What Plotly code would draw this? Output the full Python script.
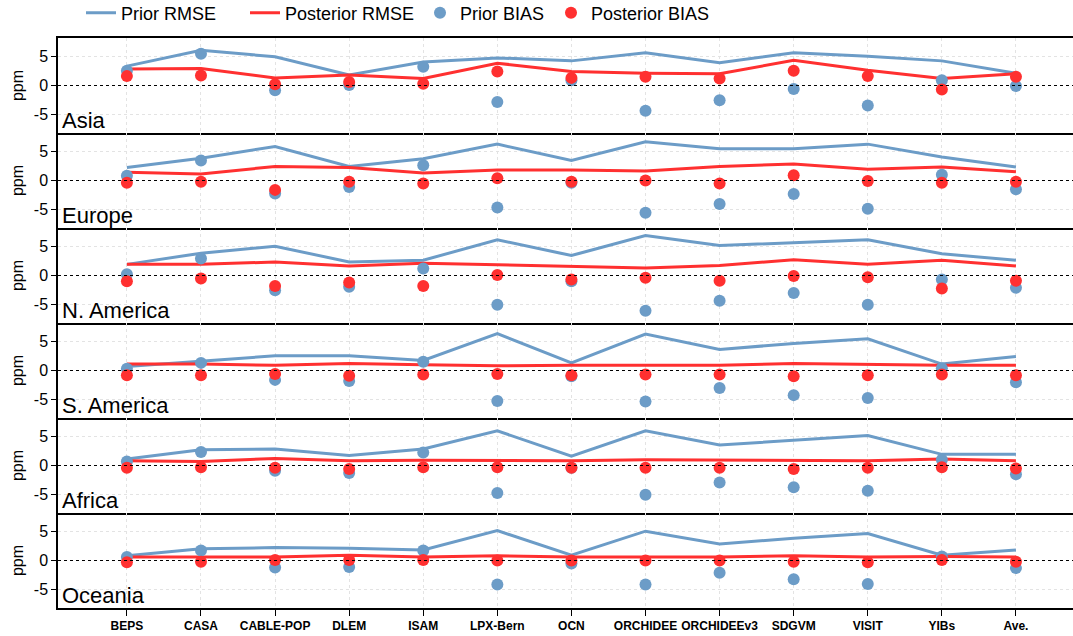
import plotly.graph_objects as go
from plotly.subplots import make_subplots

# Models on the x axis
models = ["BEPS", "CASA", "CABLE-POP", "DLEM", "ISAM", "LPX-Bern", "OCN",
          "ORCHIDEE", "ORCHIDEEv3", "SDGVM", "VISIT", "YIBs", "Ave."]

regions = ["Asia", "Europe", "N. America", "S. America", "Africa", "Oceania"]

# RMSE and BIAS (ppm) for each region, prior and posterior
asia_prior_rmse = [3.3, 6.0, 4.9, 1.8, 4.0, 4.7, 4.2, 5.6, 3.9, 5.6, 5.0, 4.2, 2.1]
asia_post_rmse = [2.8, 2.9, 1.3, 1.8, 1.2, 3.8, 2.4, 2.1, 2.0, 4.3, 2.6, 1.2, 2.0]
asia_prior_bias = [2.5, 5.4, -0.8, 0.1, 3.2, -2.8, 0.9, -4.3, -2.5, -0.6, -3.4, 0.9, -0.1]
asia_post_bias = [1.6, 1.7, 0.2, 0.6, 0.3, 2.4, 1.3, 1.5, 1.2, 2.5, 1.6, -0.7, 1.5]

europe_prior_rmse = [2.2, 3.8, 5.8, 2.4, 3.7, 6.2, 3.4, 6.6, 5.4, 5.4, 6.2, 4.0, 2.3]
europe_post_rmse = [1.4, 1.1, 2.4, 2.2, 1.3, 1.8, 1.8, 1.6, 2.4, 2.8, 1.9, 2.3, 1.5]
europe_prior_bias = [0.8, 3.4, -2.2, -1.1, 2.6, -4.6, -0.4, -5.5, -4.0, -2.3, -4.8, 1.0, -1.5]
europe_post_bias = [-0.4, -0.2, -1.6, -0.2, -0.5, 0.4, -0.2, 0.0, -0.5, 0.9, -0.1, -0.4, -0.2]

namerica_prior_rmse = [1.9, 3.8, 5.0, 2.3, 2.6, 6.1, 3.4, 6.8, 5.1, 5.6, 6.1, 3.7, 2.6]
namerica_post_rmse = [1.9, 1.9, 2.3, 1.6, 2.1, 1.8, 1.6, 1.3, 1.7, 2.7, 1.9, 2.6, 1.6]
namerica_prior_bias = [0.2, 2.9, -2.5, -1.9, 1.2, -5.0, -1.0, -6.0, -4.3, -3.0, -5.0, -0.7, -2.1]
namerica_post_bias = [-1.0, -0.5, -1.8, -1.2, -1.8, 0.1, -0.7, -0.4, -0.9, -0.1, -0.3, -2.2, -0.9]

samerica_prior_rmse = [0.7, 1.6, 2.5, 2.5, 1.7, 6.3, 1.3, 6.2, 3.6, 4.6, 5.4, 1.1, 2.4]
samerica_post_rmse = [1.1, 1.1, 0.9, 1.2, 1.0, 0.8, 0.9, 0.9, 0.9, 1.2, 1.0, 0.9, 0.9]
samerica_prior_bias = [0.3, 1.3, -1.6, -1.8, 1.5, -5.2, -1.0, -5.3, -3.0, -4.2, -4.7, 0.4, -2.0]
samerica_post_bias = [-0.8, -0.8, -0.6, -0.9, -0.7, -0.6, -0.8, -0.7, -0.7, -1.0, -0.8, -0.7, -0.8]

africa_prior_rmse = [1.1, 2.7, 2.8, 1.7, 2.8, 5.9, 1.6, 5.9, 3.5, 4.3, 5.1, 1.9, 1.9]
africa_post_rmse = [0.8, 0.7, 1.2, 0.8, 0.9, 0.8, 0.8, 1.0, 0.9, 0.8, 0.8, 1.1, 0.8]
africa_prior_bias = [0.7, 2.3, -0.9, -1.3, 2.2, -4.7, -0.4, -5.0, -2.9, -3.7, -4.3, 1.0, -1.5]
africa_post_bias = [-0.4, -0.3, -0.4, -0.6, -0.3, -0.3, -0.4, -0.4, -0.4, -0.6, -0.4, -0.3, -0.5]

oceania_prior_rmse = [0.8, 2.0, 2.2, 2.1, 1.8, 5.1, 0.9, 5.0, 2.8, 3.8, 4.6, 0.9, 1.8]
oceania_post_rmse = [0.6, 0.6, 0.6, 0.9, 0.6, 0.8, 0.6, 0.6, 0.6, 0.8, 0.6, 0.7, 0.6]
oceania_prior_bias = [0.6, 1.7, -1.2, -1.1, 1.7, -4.1, -0.5, -4.1, -2.1, -3.2, -4.0, 0.7, -1.3]
oceania_post_bias = [-0.3, -0.2, 0.1, 0.1, 0.1, 0.0, 0.0, 0.0, 0.0, -0.2, -0.3, 0.1, -0.2]

prior_rmse = [asia_prior_rmse, europe_prior_rmse, namerica_prior_rmse,
              samerica_prior_rmse, africa_prior_rmse, oceania_prior_rmse]
post_rmse = [asia_post_rmse, europe_post_rmse, namerica_post_rmse,
             samerica_post_rmse, africa_post_rmse, oceania_post_rmse]
prior_bias = [asia_prior_bias, europe_prior_bias, namerica_prior_bias,
              samerica_prior_bias, africa_prior_bias, oceania_prior_bias]
post_bias = [asia_post_bias, europe_post_bias, namerica_post_bias,
             samerica_post_bias, africa_post_bias, oceania_post_bias]

BLUE = "rgb(108,156,199)"
RED = "rgb(255,48,48)"
FONT = "Liberation Sans, Arial, sans-serif"
GRID = "#e3e3e3"

fig = make_subplots(rows=6, cols=1, shared_xaxes=True, vertical_spacing=0)

xs = list(range(len(models)))
for i, region in enumerate(regions):
    row = i + 1
    first = i == 0
    fig.add_trace(go.Scatter(x=xs, y=prior_rmse[i], mode="lines", name="Prior RMSE",
                             line=dict(color=BLUE, width=3), showlegend=first,
                             legend="legend"), row=row, col=1)
    fig.add_trace(go.Scatter(x=xs, y=post_rmse[i], mode="lines", name="Posterior RMSE",
                             line=dict(color=RED, width=3), showlegend=first,
                             legend="legend2"), row=row, col=1)
    fig.add_trace(go.Scatter(x=xs, y=prior_bias[i], mode="markers", name="Prior BIAS",
                             marker=dict(color=BLUE, size=12), showlegend=first,
                             legend="legend3"), row=row, col=1)
    fig.add_trace(go.Scatter(x=xs, y=post_bias[i], mode="markers", name="Posterior BIAS",
                             marker=dict(color=RED, size=12), showlegend=first,
                             legend="legend4"), row=row, col=1)
    # dotted zero reference
    fig.add_hline(y=0, line=dict(color="black", width=1, dash="dot"), row=row, col=1)
    # region label in the lower-left corner
    yref = "y domain" if row == 1 else f"y{row} domain"
    xref = "x domain" if row == 1 else f"x{row} domain"
    fig.add_annotation(text=region, xref=xref, yref=yref, x=0.0, y=0.0,
                       xanchor="left", yanchor="bottom", showarrow=False,
                       xshift=2, yshift=-2,
                       font=dict(family=FONT, size=22, color="black"))
    fig.update_yaxes(row=row, col=1, range=[-8.1, 8.1],
                     tickvals=[-5, 0, 5], ticktext=["-5", "0", "5"],
                     ticks="outside", ticklen=5, tickwidth=1, tickcolor="black",
                     showline=True, linecolor="black", linewidth=1.5, mirror=False,
                     showgrid=True, gridcolor=GRID, griddash="dot", gridwidth=1,
                     zeroline=False,
                     tickfont=dict(family=FONT, size=16, color="black"),
                     title=dict(text="ppm", standoff=6,
                                font=dict(family=FONT, size=16, color="black")))
    # each panel draws its bottom border; only the first also draws the top one
    fig.update_xaxes(row=row, col=1, range=[-0.93, 12.77],
                     tickvals=xs, ticktext=models,
                     showline=True, linecolor="black", linewidth=2, mirror=(row == 1),
                     showgrid=True, gridcolor=GRID, griddash="dot", gridwidth=1,
                     zeroline=False,
                     ticks="outside" if row == 6 else "", ticklen=6, tickcolor="black",
                     showticklabels=(row == 6),
                     tickfont=dict(family=FONT, size=12, color="black", weight="bold"))

legend_common = dict(orientation="h", xref="container", yref="container",
                     yanchor="middle", xanchor="left", y=1 - 13 / 636,
                     bgcolor="rgba(0,0,0,0)",
                     font=dict(family=FONT, size=18, color="black"))

fig.update_layout(
    width=1073, height=636,
    margin=dict(l=58, r=0, t=38, b=28),
    paper_bgcolor="white", plot_bgcolor="white",
    legend=dict(x=81 / 1073, **legend_common),
    legend2=dict(x=245 / 1073, **legend_common),
    legend3=dict(x=420 / 1073, **legend_common),
    legend4=dict(x=551 / 1073, **legend_common),
)

fig.write_html("out.html")
